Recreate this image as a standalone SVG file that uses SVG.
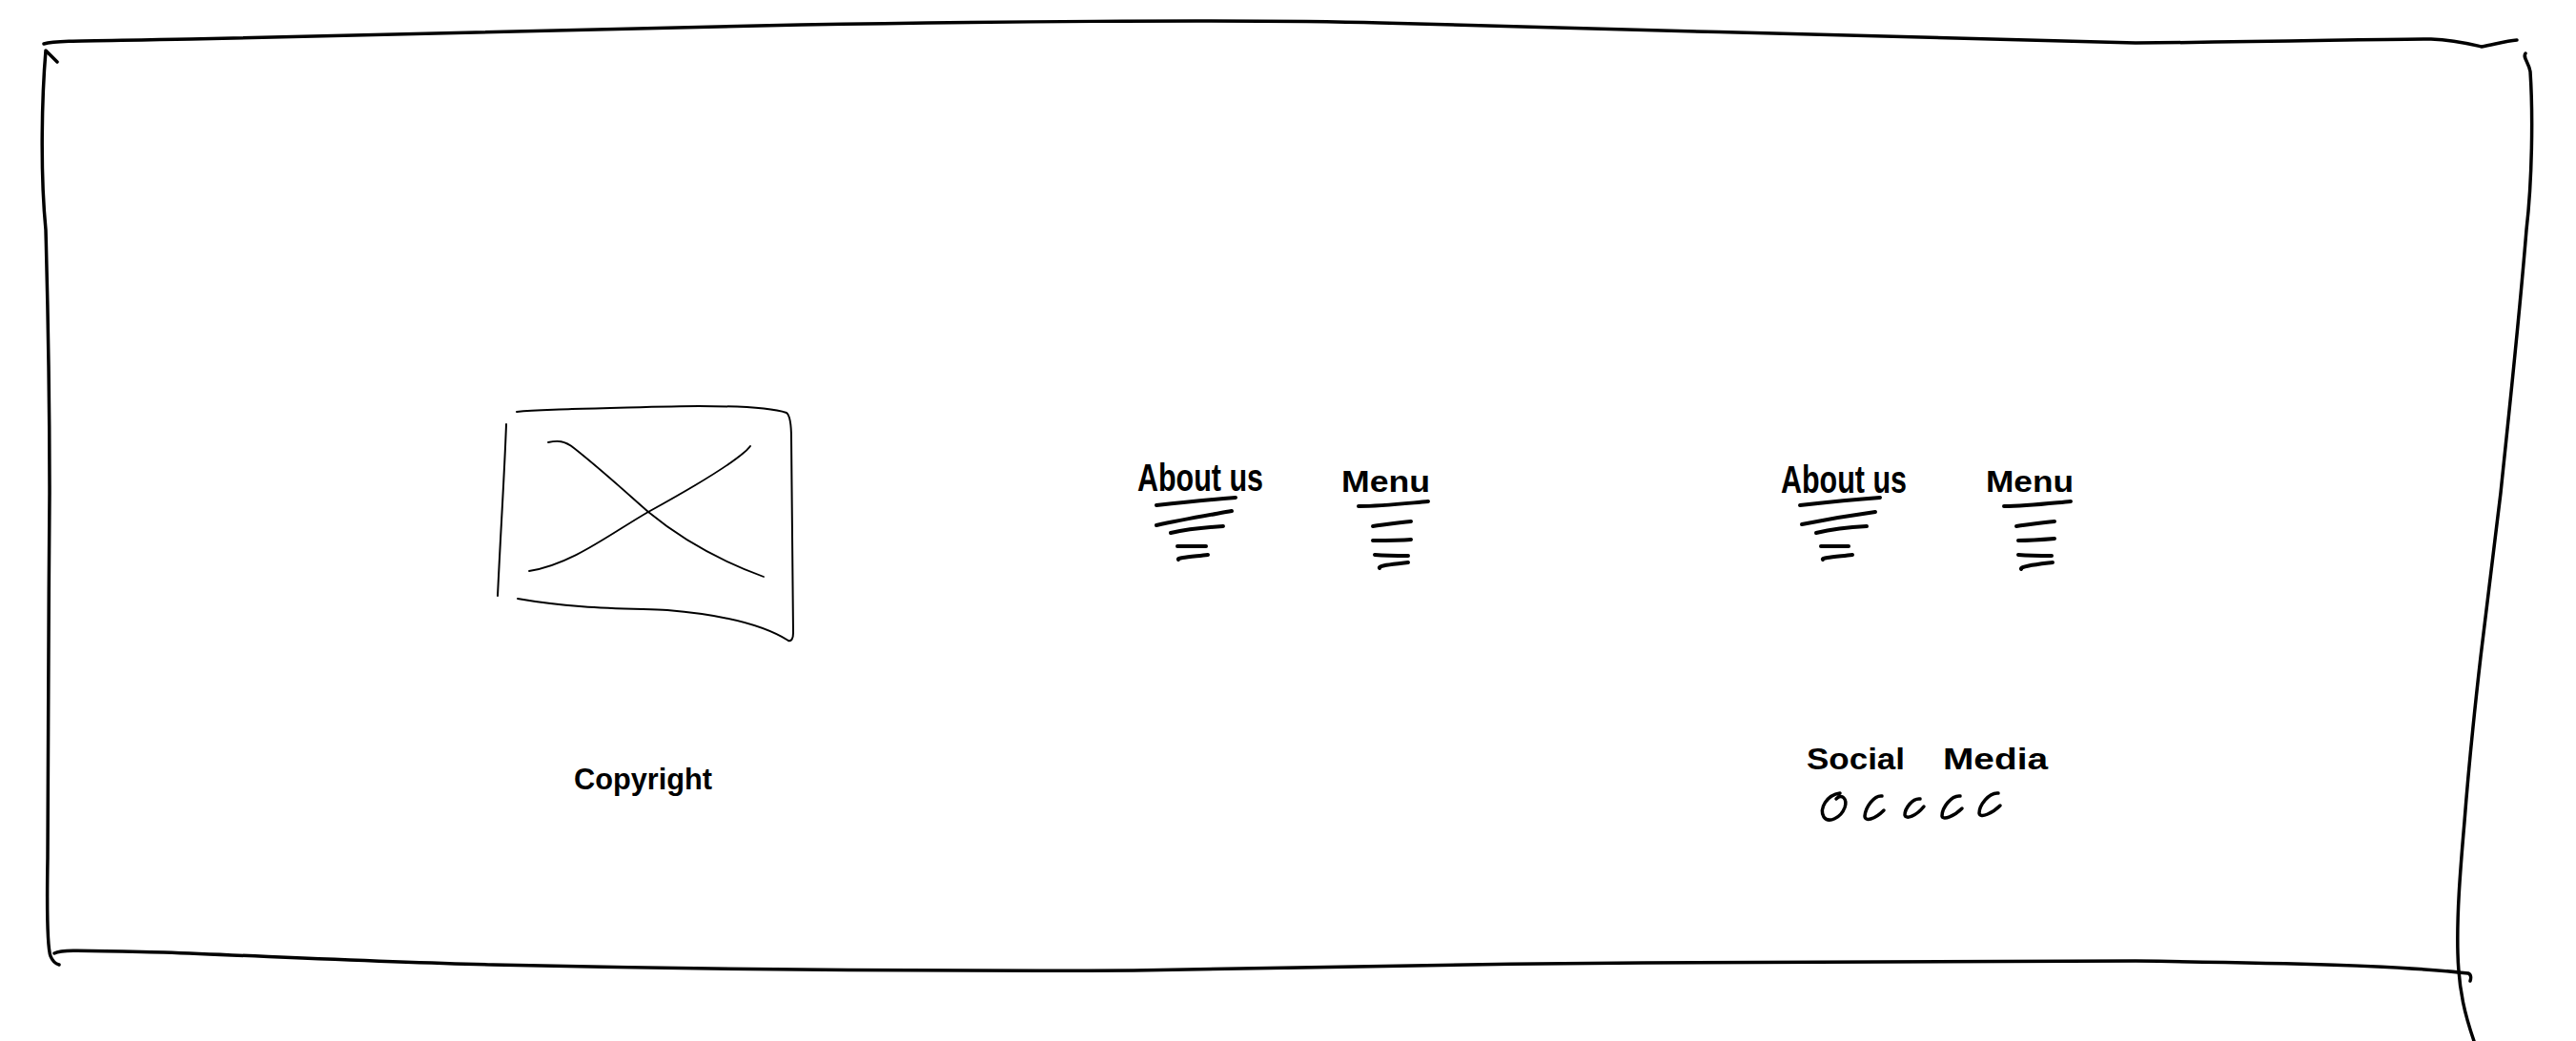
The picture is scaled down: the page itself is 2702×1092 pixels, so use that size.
<svg xmlns="http://www.w3.org/2000/svg" width="2702" height="1092" viewBox="0 0 2702 1092">
<style>
.frame{fill:none;stroke:#000;stroke-width:3.5;stroke-linecap:round;stroke-linejoin:round}
.box{fill:none;stroke:#000;stroke-width:2;stroke-linecap:round}
.cross{fill:none;stroke:#000;stroke-width:1.8;stroke-linecap:round}
.ul{fill:none;stroke:#000;stroke-width:4;stroke-linecap:round}
.ico{fill:none;stroke:#000;stroke-width:3.5;stroke-linecap:round}
.hand{font-family:"Liberation Sans",Arial,sans-serif;fill:#000;font-weight:bold}
</style>
<rect width="2702" height="1092" fill="#fff"/>
<g id="frame">
<path class="frame" d="M46,46 C60,42 100,43 200,41 C400,38 600,30 840,26 C1000,23 1300,20 1448,24 C1700,30 2000,40 2240,45 C2400,44 2480,41 2550,41 C2575,42 2590,46 2603,49 C2615,47 2628,43 2640,42"/>
<path class="frame" d="M60,65 L48,53 C44,100 42,180 48,241 C51,350 52,450 52,517 C51,650 50,800 50,900 C49,960 50,995 53,1003 C55,1008 58,1011 62,1012"/>
<path class="frame" d="M57,1000 C65,996 80,997 172,999 C300,1004 400,1009 517,1012 C700,1016 900,1019 1189,1018 C1400,1014 1550,1011 1723,1010 C1950,1008 2150,1008 2240,1008 C2400,1010 2520,1013 2589,1021 C2592,1022 2592,1026 2591,1029"/>
<path class="frame" d="M2649,56 C2646,60 2652,65 2654,75 C2657,120 2656,190 2650,241 C2642,340 2632,430 2623,517 C2615,580 2608,640 2602,689 C2595,750 2589,810 2585,862 C2580,920 2577,960 2578,1000 C2579,1040 2586,1066 2595,1092"/>
</g>
<g id="image-placeholder">
<path class="box" d="M542,432 C560,430 580,430 600,429 C650,428 700,426 733,426 C780,426 810,428 825,433 C829,436 830,445 830,460 C831,540 832,620 832,664 C832,670 830,673 827,672"/>
<path class="box" d="M543,628 C600,638 650,638 700,640 C760,645 800,655 827,672"/>
<path class="box" d="M531,445 C529,500 525,560 522,625"/>
<path class="cross" d="M575,464 C585,462 592,462 602,470 C630,492 655,515 680,537 C720,570 760,590 801,605"/>
<path class="cross" d="M555,599 C600,592 640,560 680,537 C720,515 760,492 780,475 C784,472 786,469 787,468"/>
</g>
<g id="nav-about-1">
<text class="hand" x="1193" y="515" font-size="40" textLength="132" lengthAdjust="spacingAndGlyphs">About us</text>
<path class="ul" d="M1213,530 C1240,527 1270,524 1296,522"/>
<path class="ul" d="M1213,551 C1240,545 1270,540 1292,536"/>
<path class="ul" d="M1228,559 C1245,555 1265,553 1283,552"/>
<path class="ul" d="M1235,573 L1265,573"/>
<path class="ul" d="M1236,587 C1234,585 1250,584 1267,582"/>
</g>
<g id="nav-menu-1">
<text class="hand" x="1407" y="516" font-size="32" textLength="93" lengthAdjust="spacingAndGlyphs">Menu</text>
<path class="ul" d="M1425,531 C1450,531 1475,528 1498,526"/>
<path class="ul" d="M1440,552 C1455,550 1468,548 1480,547"/>
<path class="ul" d="M1440,567 C1455,567 1468,567 1480,566"/>
<path class="ul" d="M1442,582 C1455,583 1467,583 1477,583"/>
<path class="ul" d="M1447,596 C1445,593 1462,592 1477,590"/>
</g>
<g id="nav-about-2">
<text class="hand" x="1868" y="517" font-size="40" textLength="132" lengthAdjust="spacingAndGlyphs">About us</text>
<path class="ul" d="M1888,530 C1915,527 1945,524 1972,522"/>
<path class="ul" d="M1890,550 C1915,545 1945,540 1967,537"/>
<path class="ul" d="M1905,559 C1922,555 1940,553 1958,552"/>
<path class="ul" d="M1910,573 L1939,573"/>
<path class="ul" d="M1912,587 C1910,585 1926,584 1943,582"/>
</g>
<g id="nav-menu-2">
<text class="hand" x="2083" y="516" font-size="32" textLength="92" lengthAdjust="spacingAndGlyphs">Menu</text>
<path class="ul" d="M2102,531 C2125,531 2150,528 2172,526"/>
<path class="ul" d="M2115,552 C2130,550 2143,548 2155,547"/>
<path class="ul" d="M2117,567 C2130,567 2143,566 2155,565"/>
<path class="ul" d="M2117,582 C2130,583 2142,583 2152,583"/>
<path class="ul" d="M2120,597 C2118,594 2137,592 2153,590"/>
</g>
<g id="copyright">
<text class="hand" x="602" y="828" font-size="32" textLength="145" lengthAdjust="spacingAndGlyphs">Copyright</text>
</g>
<g id="social-media">
<text class="hand" y="807" font-size="32"><tspan x="1895" textLength="103" lengthAdjust="spacingAndGlyphs">Social</tspan> <tspan x="2038" textLength="110" lengthAdjust="spacingAndGlyphs">Media</tspan></text>
<path class="ico" d="M1926,838 C1932,832 1938,838 1935,847 C1931,858 1918,864 1913,857 C1908,848 1916,834 1930,832"/>
<path class="ico" d="M1974,835 C1966,834 1957,846 1956,856 C1956,862 1966,860 1976,850"/>
<path class="ico" d="M2014,838 C2006,837 1998,848 1998,855 C1999,860 2010,856 2018,846"/>
<path class="ico" d="M2056,835 C2047,834 2037,847 2037,856 C2038,861 2050,856 2058,848"/>
<path class="ico" d="M2096,832 C2086,831 2076,845 2076,853 C2077,859 2090,853 2098,845"/>
</g>
</svg>
